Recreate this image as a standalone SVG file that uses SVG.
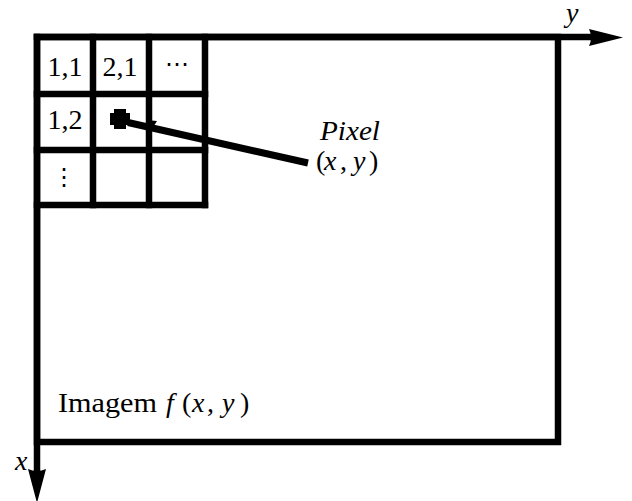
<svg xmlns="http://www.w3.org/2000/svg" width="632" height="501" viewBox="0 0 632 501">
<style>
.ln{stroke:#000;stroke-width:6.5;fill:none;stroke-linecap:square}
.t{font-family:'Liberation Serif','DejaVu Serif',serif;font-size:28px;fill:#000}
.i{font-style:italic}
.sym{font-family:'DejaVu Serif','DejaVu Sans',serif;font-size:24px;fill:#000}
</style>
<rect width="632" height="501" fill="#fff"/>
<g id="image-frame">
<rect x="37" y="37" width="521" height="405" class="ln"/>
</g>
<g id="axes">
<line x1="37" y1="37" x2="592" y2="37" class="ln" stroke-linecap="butt"/>
<path d="M589,29 L623,37.5 L589,46 Q593,37.5 589,29 Z" fill="#000"/>
<line x1="37" y1="37" x2="37" y2="472" class="ln" stroke-linecap="butt"/>
<path d="M28,469 L37,503 L46,469 Q37,473 28,469 Z" fill="#000"/>
<text x="566" y="22" class="t i">y</text>
<text x="15" y="470" class="t i">x</text>
</g>
<g id="grid">
<line x1="93" y1="37" x2="93" y2="205" class="ln"/>
<line x1="149" y1="37" x2="149" y2="205" class="ln"/>
<line x1="205" y1="37" x2="205" y2="205" class="ln"/>
<line x1="37" y1="94" x2="205" y2="94" class="ln"/>
<line x1="37" y1="150" x2="205" y2="150" class="ln"/>
<line x1="37" y1="205" x2="205" y2="205" class="ln"/>
</g>
<g id="cell-labels">
<text x="65" y="76" class="t" text-anchor="middle">1,1</text>
<text x="120" y="76" class="t" text-anchor="middle">2,1</text>
<text x="177" y="72" class="sym" text-anchor="middle">⋯</text>
<text x="65" y="129" class="t" text-anchor="middle">1,2</text>
<text x="64" y="185" class="sym" text-anchor="middle">⋮</text>
</g>
<g id="pixel">
<path d="M110,113 H114 V109 H126 V113 H130 V125 H126 V129 H114 V125 H110 Z" fill="#000"/>
</g>
<g id="connectors">
<line x1="128" y1="122.5" x2="308" y2="163" stroke="#000" stroke-width="7"/>
<path d="M146,120 L157,121 L152,129 Z" fill="#000"/>
</g>
<g id="pixel-label">
<text x="320" y="140" class="t i" textLength="60" lengthAdjust="spacingAndGlyphs">Pixel</text>
<text y="170" class="t"><tspan x="316">(</tspan><tspan x="324" class="i">x</tspan><tspan x="340">,</tspan><tspan x="353" class="i">y</tspan><tspan x="369">)</tspan></text>
</g>
<g id="image-label">
<text y="412" class="t"><tspan x="58" textLength="99" lengthAdjust="spacingAndGlyphs">Imagem</tspan><tspan x="166" class="i">f</tspan><tspan x="182">(</tspan><tspan x="192" class="i">x</tspan><tspan x="207">,</tspan><tspan x="222" class="i">y</tspan><tspan x="240">)</tspan></text>
</g>
</svg>
